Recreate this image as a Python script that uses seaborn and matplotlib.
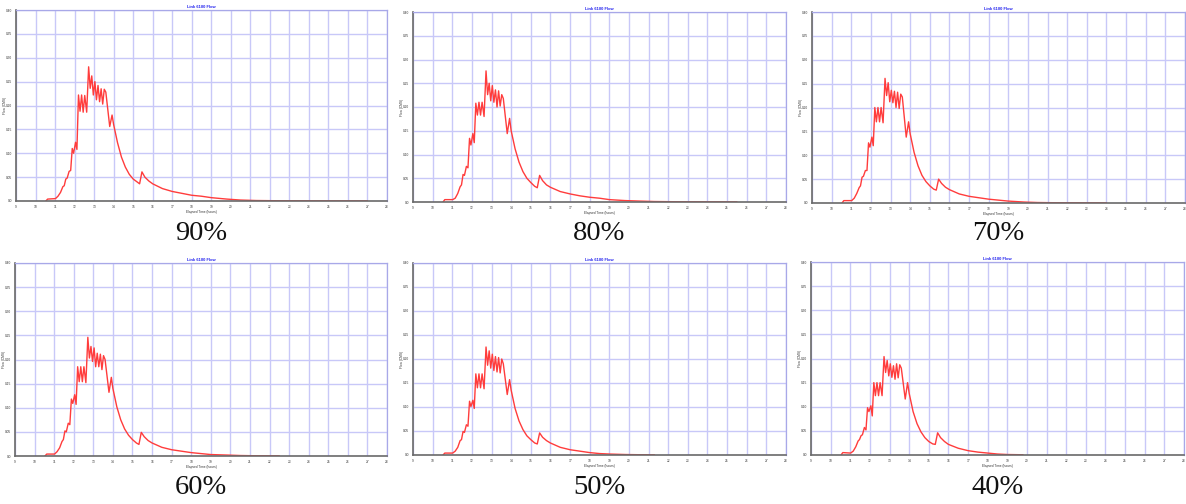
import numpy as np
import pandas as pd
import matplotlib
matplotlib.use("Agg")
import matplotlib.pyplot as plt
import seaborn as sns

sns.set_style("white")
plt.rcParams['font.family'] = ['Liberation Sans', 'DejaVu Sans']

# ---- data ----
time_h = [10.53, 10.62, 11.02, 11.15, 11.28, 11.40, 11.47, 11.55, 11.62, 11.72,
          11.80, 11.88, 11.95, 12.05, 12.12, 12.20, 12.28, 12.36, 12.44, 12.52,
          12.62, 12.72, 12.80, 12.88, 12.96, 13.04, 13.12, 13.20, 13.28, 13.36,
          13.44, 13.52, 13.60, 13.80, 13.92, 14.00, 14.20, 14.40, 14.60, 14.80,
          15.00, 15.20, 15.33, 15.45, 15.60, 15.80, 16.00, 16.50, 17.00, 17.50,
          18.00, 18.50, 19.00, 19.80, 20.50, 21.30, 22.50, 24.00, 25.50, 27.00]

flow_90 = [0.000, 0.004, 0.005, 0.010, 0.018, 0.030, 0.032, 0.046, 0.048, 0.062,
           0.064, 0.110, 0.100, 0.123, 0.108, 0.222, 0.188, 0.222, 0.186, 0.221,
           0.186, 0.281, 0.236, 0.262, 0.222, 0.250, 0.212, 0.242, 0.208, 0.235,
           0.203, 0.234, 0.228, 0.156, 0.180, 0.160, 0.122, 0.092, 0.071, 0.056,
           0.046, 0.040, 0.036, 0.061, 0.050, 0.042, 0.036, 0.026, 0.020, 0.016,
           0.012, 0.010, 0.007, 0.004, 0.002, 0.001, 0.0005, 0.0003, 0.0002, 0.0001]

flow_80 = [0.000, 0.005, 0.005, 0.008, 0.018, 0.032, 0.036, 0.058, 0.056, 0.075,
           0.072, 0.134, 0.120, 0.144, 0.125, 0.208, 0.183, 0.210, 0.183, 0.210,
           0.180, 0.276, 0.226, 0.250, 0.213, 0.245, 0.210, 0.236, 0.200, 0.234,
           0.202, 0.226, 0.218, 0.144, 0.176, 0.150, 0.112, 0.084, 0.064, 0.050,
           0.041, 0.033, 0.030, 0.056, 0.045, 0.036, 0.031, 0.022, 0.017, 0.013,
           0.010, 0.008, 0.005, 0.003, 0.002, 0.001, 0.0005, 0.0003, 0.0002, None]

flow_70 = [0.000, 0.005, 0.005, 0.010, 0.020, 0.032, 0.036, 0.054, 0.056, 0.068,
           0.068, 0.126, 0.117, 0.138, 0.120, 0.200, 0.170, 0.200, 0.170, 0.200,
           0.168, 0.261, 0.225, 0.252, 0.212, 0.236, 0.210, 0.234, 0.200, 0.232,
           0.198, 0.228, 0.222, 0.138, 0.170, 0.145, 0.106, 0.078, 0.058, 0.045,
           0.036, 0.029, 0.027, 0.050, 0.041, 0.033, 0.028, 0.019, 0.014, 0.011,
           0.008, 0.006, 0.004, 0.002, 0.001, 0.0006, 0.0004, 0.0002, None, None]

flow_60 = [0.000, 0.004, 0.004, 0.009, 0.017, 0.030, 0.034, 0.052, 0.050, 0.068,
           0.065, 0.118, 0.109, 0.127, 0.107, 0.185, 0.154, 0.185, 0.154, 0.185,
           0.152, 0.246, 0.203, 0.227, 0.196, 0.224, 0.185, 0.213, 0.185, 0.211,
           0.179, 0.208, 0.200, 0.132, 0.163, 0.140, 0.102, 0.075, 0.056, 0.043,
           0.034, 0.027, 0.024, 0.049, 0.040, 0.032, 0.027, 0.018, 0.013, 0.010,
           0.007, 0.005, 0.003, 0.002, 0.001, 0.0005, 0.0003, None, None, None]

flow_50 = [0.000, 0.004, 0.004, 0.008, 0.016, 0.030, 0.032, 0.049, 0.047, 0.063,
           0.060, 0.112, 0.101, 0.114, 0.097, 0.169, 0.140, 0.169, 0.140, 0.169,
           0.138, 0.225, 0.187, 0.217, 0.181, 0.210, 0.176, 0.205, 0.173, 0.203,
           0.171, 0.200, 0.190, 0.126, 0.157, 0.135, 0.097, 0.071, 0.053, 0.040,
           0.032, 0.025, 0.023, 0.046, 0.037, 0.030, 0.025, 0.016, 0.011, 0.008,
           0.005, 0.003, 0.002, 0.001, 0.0006, 0.0003, None, None, None, None]

flow_40 = [0.000, 0.005, 0.004, 0.008, 0.017, 0.029, 0.032, 0.040, 0.042, 0.057,
           0.052, 0.098, 0.090, 0.102, 0.081, 0.150, 0.123, 0.150, 0.123, 0.150,
           0.123, 0.204, 0.171, 0.196, 0.164, 0.189, 0.161, 0.185, 0.157, 0.189,
           0.160, 0.187, 0.180, 0.116, 0.150, 0.128, 0.090, 0.065, 0.048, 0.036,
           0.028, 0.023, 0.022, 0.046, 0.036, 0.028, 0.022, 0.014, 0.009, 0.006,
           0.004, 0.002, 0.001, 0.0005, None, None, None, None, None, None]

captions = ["90%", "80%", "70%", "60%", "50%", "40%"]
series = [flow_90, flow_80, flow_70, flow_60, flow_50, flow_40]

x_ticks = list(range(9, 29))
y_ticks = [0.0, 0.05, 0.10, 0.15, 0.20, 0.25, 0.30, 0.35, 0.40]
y_tick_labels = ["0.0", "0.05", "0.10", "0.15", "0.20", "0.25", "0.30", "0.35", "0.40"]
title_text = "Link 6100 Flow"
x_label = "Elapsed Time (hours)"
y_label = "Flow (CMS)"

# ---- layout ----
W, H = 1186, 504
fig = plt.figure(figsize=(W / 100, H / 100), dpi=100)

# pixel boxes (left, top, right, bottom)
boxes = [(16, 10, 387, 201), (413, 12, 786, 202), (812, 12, 1185, 203),
         (15, 263, 387, 456), (413, 263, 786, 455), (811, 262, 1184, 455)]
caption_y = [234, 233, 233, 488, 488, 488]

grid_col = "#c8c8f8"
for i, (box, flow, cap) in enumerate(zip(boxes, series, captions)):
    l, t, r, b = box
    ax = fig.add_axes([l / W, 1 - b / H, (r - l) / W, (b - t) / H])
    df = pd.DataFrame({"t": time_h, "q": [np.nan if v is None else v for v in flow]}).dropna()
    sns.lineplot(data=df, x="t", y="q", ax=ax, color="#ff3c3c", linewidth=1.0,
                 estimator=None, sort=False)
    ax.set_xlim(9, 28)
    ax.set_ylim(0, 0.40)
    ax.set_xticks(x_ticks)
    ax.set_xticklabels([str(v) for v in x_ticks], fontsize=2.3, color="#333333")
    ax.set_yticks(y_ticks)
    ax.set_yticklabels(y_tick_labels, fontsize=2.3, color="#333333")
    ax.tick_params(axis="both", length=1.5, width=0.5, pad=1.2, color="#666666")
    ax.grid(True, color=grid_col, linewidth=1.0)
    ax.set_axisbelow(True)
    for side in ["left", "bottom"]:
        ax.spines[side].set_color("#6a6a6a")
        ax.spines[side].set_linewidth(1.2)
    for side in ["top", "right"]:
        ax.spines[side].set_color("#a8a8e8")
        ax.spines[side].set_linewidth(0.9)
    ax.set_xlabel(x_label, fontsize=2.3, labelpad=0.8, color="#333333")
    ax.set_ylabel(y_label, fontsize=2.3, labelpad=0.3, color="#333333")
    ax.yaxis.set_label_coords(-0.024, 0.5)
    ax.set_title(title_text, fontsize=2.9, color="#2020ee", fontweight="bold", pad=1.5)
    cx = (l + r) / 2 / W
    fig.text(cx, 1 - caption_y[i] / H, cap, ha="center", va="center",
             fontsize=20.5, family=["Liberation Serif", "DejaVu Serif"], color="#111111")

fig.savefig("out.png", dpi=100)
